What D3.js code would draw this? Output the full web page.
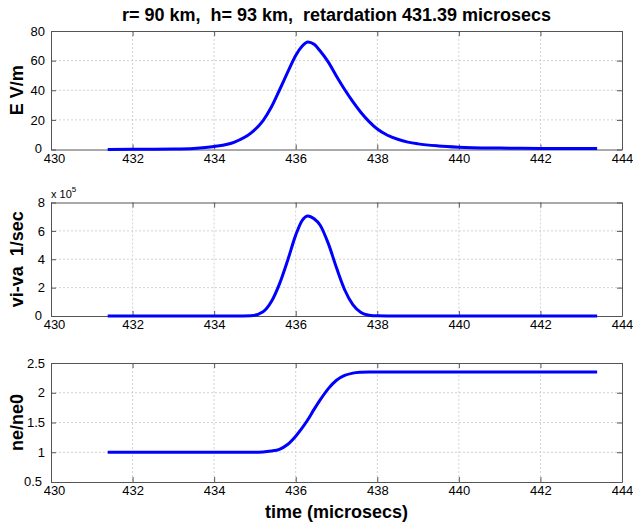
<!DOCTYPE html>
<html><head><meta charset="utf-8">
<script src="https://cdn.jsdelivr.net/npm/d3@7/dist/d3.min.js"></script>
<style>
html,body{margin:0;padding:0;background:#fff;}
svg{display:block;font-family:"Liberation Sans",Arial,Helvetica,sans-serif;}
text{white-space:pre;}
</style></head>
<body><svg id="chart" width="633" height="525"></svg>
<script>
// ---- data ----
const titleText = "r= 90 km,  h= 93 km,  retardation 431.39 microsecs";
const xLabel = "time (microsecs)";
const time = [431.39, 432, 433, 433.5, 434, 434.5, 434.9, 435.2, 435.4, 435.6, 435.8, 436.0, 436.15, 436.3, 436.45, 436.6, 436.8, 437.0, 437.2, 437.4, 437.6, 437.8, 438.0, 438.25, 438.5, 438.75, 439.0, 439.5, 440.0, 441.0, 442.0, 443.39];
const eField = [0.05, 0.1, 0.3, 0.7, 2.0, 5.0, 11.0, 19.5, 28.5, 40, 52, 63.5, 69.5, 72.5, 71, 66.5, 59, 49.5, 40.5, 32.3, 25, 18.8, 13.8, 9.6, 6.9, 5.0, 3.8, 2.4, 1.6, 0.95, 0.7, 0.6];
const viva = [0, 0, 0, 0, 0, 0, 0.02e5, 0.3e5, 1.0e5, 2.25e5, 3.9e5, 5.7e5, 6.7e5, 7.05e5, 6.85e5, 6.4e5, 5.1e5, 3.4e5, 1.85e5, 0.8e5, 0.25e5, 0.06e5, 0.01e5, 0, 0, 0, 0, 0, 0, 0, 0, 0];
const neRatio = [1, 1, 1, 1, 1, 1, 1, 1.005, 1.02, 1.05, 1.13, 1.27, 1.4, 1.55, 1.72, 1.88, 2.07, 2.21, 2.29, 2.33, 2.345, 2.35, 2.35, 2.35, 2.35, 2.35, 2.35, 2.35, 2.35, 2.35, 2.35, 2.35];
const xTicks = [430, 432, 434, 436, 438, 440, 442, 444];
const eTicks = [0, 20, 40, 60, 80];
const vTicks = [0, 2e5, 4e5, 6e5, 8e5];
const nTicks = [0.5, 1, 1.5, 2, 2.5];
const yLabels = ["E V/m", "vi-va  1/sec", "ne/ne0"];

// ---- layout ----
const L = 51, R = 622;
const panels = [
  {top: 31, bottom: 149.5, values: eField, domain: [0, 80], ticks: eTicks, fmt: d => d, label: yLabels[0]},
  {top: 202.5, bottom: 316, values: viva, domain: [0, 8e5], ticks: vTicks, fmt: d => d / 1e5, label: yLabels[1], exp: true},
  {top: 363, bottom: 482, values: neRatio, domain: [0.5, 2.5], ticks: nTicks, fmt: d => d, label: yLabels[2]}
];

const svg = d3.select("#chart");
const x = d3.scaleLinear().domain([430, 444]).range([L, R]);

panels.forEach(p => {
  const y = d3.scaleLinear().domain(p.domain).range([p.bottom, p.top]);
  const g = svg.append("g");
  // grid
  g.selectAll(".vg").data(xTicks.slice(1, -1)).enter().append("line")
    .attr("x1", d => x(d)).attr("x2", d => x(d)).attr("y1", p.top).attr("y2", p.bottom)
    .attr("stroke", "#d2d2d2").attr("stroke-width", 1).attr("stroke-dasharray", "2,2");
  g.selectAll(".hg").data(p.ticks.slice(1, -1)).enter().append("line")
    .attr("x1", L).attr("x2", R).attr("y1", d => y(d)).attr("y2", d => y(d))
    .attr("stroke", "#d2d2d2").attr("stroke-width", 1).attr("stroke-dasharray", "2,2");
  // axes
  const xb = d3.axisBottom(x).tickValues(xTicks).tickSizeInner(-5).tickSizeOuter(0).tickPadding(4);
  const xt = d3.axisTop(x).tickValues(xTicks).tickSizeInner(-5).tickSizeOuter(0).tickFormat("");
  const yl = d3.axisLeft(y).tickValues(p.ticks).tickSizeInner(-5).tickSizeOuter(0).tickPadding(6).tickFormat(p.fmt);
  const yr = d3.axisRight(y).tickValues(p.ticks).tickSizeInner(-5).tickSizeOuter(0).tickFormat("");
  const axes = [[xb, `translate(0,${p.bottom})`, "xb"], [xt, `translate(0,${p.top})`, "xt"], [yl, `translate(${L},0)`, "yl"], [yr, `translate(${R},0)`, "yr"]];
  axes.forEach(([ax, tr, kind]) => {
    const a = g.append("g").attr("transform", tr).call(ax);
    a.select(".domain").attr("stroke", "#555");
    a.selectAll(".tick line").attr("stroke", "#555");
    a.selectAll("text").attr("font-size", 13).attr("fill", "#000").attr("font-family", "Liberation Sans, Arial, sans-serif");
    // keep the corner labels from colliding
    if (kind === "xb") a.selectAll(".tick text").filter(d => d === xTicks[0]).attr("dx", 3);
    if (kind === "yl") a.selectAll(".tick text").filter(d => d === p.ticks[0]).attr("dx", -3).attr("dy", "0.25em");
  });
  // curve
  const line = d3.line().x((d, i) => x(time[i])).y(d => y(d)).curve(d3.curveMonotoneX);
  g.append("path").datum(p.values).attr("d", line).attr("fill", "none")
    .attr("stroke", "#0000ff").attr("stroke-width", 3).attr("stroke-linejoin", "round");
  // y label
  g.append("text").attr("transform", `translate(23,${(p.top + p.bottom) / 2}) rotate(-90)`)
    .attr("text-anchor", "middle").attr("font-size", 18).attr("font-weight", "bold").text(p.label);
  if (p.exp) {
    const t = g.append("text").attr("x", L).attr("y", p.top - 5).attr("font-size", 11);
    t.append("tspan").text("x 10");
    t.append("tspan").attr("dy", -6).attr("font-size", 8).text("5");
  }
});

svg.append("text").attr("x", (L + R) / 2).attr("y", 21).attr("text-anchor", "middle")
  .attr("font-size", 18).attr("font-weight", "bold").text(titleText);
svg.append("text").attr("x", (L + R) / 2).attr("y", 518).attr("text-anchor", "middle")
  .attr("font-size", 18).attr("font-weight", "bold").text(xLabel);
</script></body></html>
